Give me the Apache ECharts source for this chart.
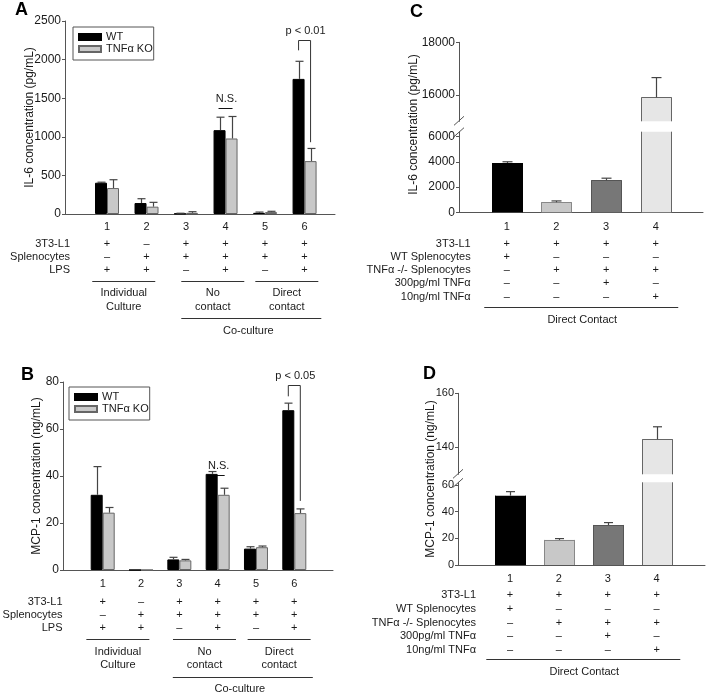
<!DOCTYPE html>
<html><head><meta charset="utf-8">
<script src="https://cdn.jsdelivr.net/npm/echarts@6/dist/echarts.min.js"></script>
<style>html,body{margin:0;padding:0;background:#fff}#c{width:709px;height:696px}</style>
</head><body><div id="c"></div>
<script>
// ---------------- DATA ----------------
// Panel A: IL-6 (pg/mL)
const catsAB = ['1','2','3','4','5','6'];
const aWT    = [405, 142, 5, 1086, 15, 1750];
const aWTerr = [412, 198, 10, 1254, 25, 1978];
const aKO    = [336, 95, 15, 978, 25, 685];
const aKOerr = [444, 151, 30, 1263, 35, 849];
const aYTicks = [0, 500, 1000, 1500, 2000, 2500];
// Panel B: MCP-1 (ng/mL)
const bWT    = [32, 0, 4.5, 40.9, 9.1, 68];
const bWTerr = [44, 0, 5.4, 41.9, 9.9, 71];
const bKO    = [24.4, 0, 4.1, 32, 9.7, 24.2];
const bKOerr = [26.6, 0, 4.5, 34.8, 10.2, 26];
const bYTicks = [0, 20, 40, 60, 80];
const seriesNames = ['WT', 'TNFα KO'];

const abRowLabels = ['3T3-L1', 'Splenocytes', 'LPS'];
const abRows = [
  ['+','–','+','+','+','+'],
  ['–','+','+','+','+','+'],
  ['+','+','–','+','–','+']
];
const abGroups = [
  {label: ['Individual','Culture'], from: 1, to: 2},
  {label: ['No','contact'], from: 3, to: 4},
  {label: ['Direct','contact'], from: 5, to: 6}
];
const abSuper = {label: 'Co-culture', from: 3, to: 6};
const aSig = {cat: 6, top: 2250, leftEnd: 2120, rightEnd: 930, label: 'p < 0.01'};
const aNS  = {cat: 4, y: 1373, label: 'N.S.'};
const bSig = {cat: 6, top: 78.8, leftEnd: 73.9, rightEnd: 29.4, label: 'p < 0.05'};
const bNS  = {cat: 4, y: 40.5, label: 'N.S.'};

// Panel C: IL-6 (pg/mL), broken axis
const catsCD = ['1','2','3','4'];
const cVal = [3900, 800, 2540, 15910];
const cErr = [4000, 900, 2700, 16660];
const cLowTicks = [0, 2000, 4000, 6000];
const cHighTicks = [16000, 18000];
// Panel D: MCP-1 (ng/mL), broken axis
const dVal = [52, 18.8, 30, 143];
const dErr = [55, 19.8, 31.8, 147.6];
const dLowTicks = [0, 20, 40, 60];
const dHighTicks = [140, 160];

const cdRowLabels = ['3T3-L1','WT Splenocytes','TNFα -/- Splenocytes','300pg/ml TNFα','10ng/ml TNFα'];
const cdRows = [
  ['+','+','+','+'],
  ['+','–','–','–'],
  ['–','+','+','+'],
  ['–','–','+','–'],
  ['–','–','–','+']
];
const cdGroup = 'Direct Contact';

// ---------------- STYLE ----------------
const FONT = '"Liberation Sans", Arial, Helvetica, sans-serif';
const AX = '#555';
const TX = '#1a1a1a';
const ERR = '#444';
const cdColors = ['#000000', '#c8c8c8', '#777777', '#e6e6e6'];
const cdBorders = ['#000000', '#888888', '#555555', '#666666'];

const chart = echarts.init(document.getElementById('c'), null, {renderer: 'canvas'});

function mkX(g, min, max, cats, show, margin) {
  return {
    type: 'value', gridIndex: g, min: min, max: max, show: show,
    axisLine: {show: true, onZero: false, lineStyle: {color: AX, width: 1}},
    axisTick: {show: false}, splitLine: {show: false},
    axisLabel: {show: true, customValues: cats.map((c, i) => i + 1),
      formatter: v => cats[Math.round(v) - 1], margin: margin || 8,
      fontSize: 11, fontFamily: FONT, color: TX}
  };
}
function mkY(g, min, max, ticks, fs, name, gap) {
  const o = {
    type: 'value', gridIndex: g, min: min, max: max,
    axisLine: {show: true, onZero: false, lineStyle: {color: AX, width: 1}},
    axisTick: {show: true, length: 3, customValues: ticks, lineStyle: {color: AX}},
    axisLabel: {show: true, customValues: ticks, formatter: v => String(v), margin: 4,
      fontSize: fs, fontFamily: FONT, color: TX},
    splitLine: {show: false}
  };
  if (name) {
    o.name = name; o.nameLocation = 'middle'; o.nameGap = gap; o.nameMoveOverlap = false;
    o.nameTextStyle = {fontSize: 12, fontFamily: FONT, color: TX};
  }
  return o;
}
function errSeries(xi, vals, tops, dx, lo, hi, cap) {
  return {
    type: 'custom', xAxisIndex: xi, yAxisIndex: xi, z: 5, silent: true,
    data: vals.map((v, i) => [i + 1, v, tops[i]]),
    renderItem: function (params, api) {
      const x = api.value(0), m = api.value(1), t = api.value(2);
      if (m < lo || m > hi || t <= m) return null;
      const p0 = api.coord([x, m]), p1 = api.coord([x, t]);
      const cx = Math.round(p0[0] + dx) + 0.5;
      return {type: 'group', children: [
        {type: 'line', shape: {x1: cx, y1: p0[1], x2: cx, y2: p1[1]}, style: {stroke: ERR, lineWidth: 1.2}},
        {type: 'line', shape: {x1: cx - cap / 2, y1: p1[1], x2: cx + cap / 2, y2: p1[1]}, style: {stroke: ERR, lineWidth: 1.2}}
      ]};
    }
  };
}
function barAB(xi, name, vals, color, border) {
  return {type: 'bar', name: name, xAxisIndex: xi, yAxisIndex: xi, barWidth: 12, barGap: '0%',
    data: vals.map((v, i) => [i + 1, v]),
    itemStyle: {color: color, borderColor: border, borderWidth: 1}, z: 2};
}
// bars of the broken-axis panels: fill clipped to the grid, outline only on real edges
function barCD(xi, vals) {
  return {
    type: 'custom', xAxisIndex: xi, yAxisIndex: xi, z: 2, silent: true,
    data: vals.map((v, i) => [i + 1, v]),
    renderItem: function (params, api) {
      const cs = params.coordSys, i = params.dataIndex;
      const x = api.value(0), v = api.value(1);
      const p0 = api.coord([x, 0]), p1 = api.coord([x, v]);
      const w = 30, xl = Math.round(p0[0] - w / 2) + 0.5, xr = xl + w;
      const top = Math.max(p1[1], cs.y), bot = Math.min(p0[1], cs.y + cs.height);
      if (top >= bot) return null;
      const st = {stroke: cdBorders[i], lineWidth: 1};
      const ch = [
        {type: 'rect', shape: {x: xl, y: top, width: w, height: bot - top}, style: {fill: cdColors[i]}},
        {type: 'line', shape: {x1: xl, y1: top, x2: xl, y2: bot}, style: st},
        {type: 'line', shape: {x1: xr, y1: top, x2: xr, y2: bot}, style: st}
      ];
      if (p1[1] >= cs.y) {
        const yt = Math.round(top) + 0.5;
        ch.push({type: 'line', shape: {x1: xl, y1: yt, x2: xr, y2: yt}, style: st});
      }
      return {type: 'group', children: ch};
    }
  };
}

const legendCommon = {
  orient: 'vertical', data: seriesNames, selectedMode: false, icon: 'rect',
  itemWidth: 22, itemHeight: 6, itemGap: 0, borderColor: '#555', borderWidth: 1,
  padding: [4, 1, 5, 5], textStyle: {fontSize: 11, fontFamily: FONT, color: TX, lineHeight: 12}
};

chart.setOption({
  animation: false,
  backgroundColor: '#fff',
  grid: [
    {left: 65, top: 21, width: 270, height: 193},
    {left: 63, top: 382, width: 270, height: 188},
    {left: 459, top: 42.3, width: 244, height: 79},
    {left: 459, top: 131.7, width: 244, height: 80.6},
    {left: 458, top: 393.3, width: 247, height: 81},
    {left: 458, top: 482.3, width: 247, height: 82.7}
  ],
  xAxis: [
    mkX(0, -0.063, 6.77, catsAB, true, 7),
    mkX(1, -0.036, 7.01, catsAB, true, 8),
    mkX(2, 0.04, 4.95, catsCD, false),
    mkX(3, 0.04, 4.95, catsCD, true, 9),
    mkX(4, -0.063, 4.99, catsCD, false),
    mkX(5, -0.063, 4.99, catsCD, true, 8)
  ],
  yAxis: [
    mkY(0, 0, 2500, aYTicks, 12, 'IL-6 concentration (pg/mL)', 29),
    mkY(1, 0, 80, bYTicks, 12, 'MCP-1 concentration (ng/mL)', 20.5),
    mkY(2, 15000, 18000, cHighTicks, 12),
    mkY(3, 0, 6380, cLowTicks, 12),
    mkY(4, 130, 160, dHighTicks, 11),
    mkY(5, 0, 62, dLowTicks, 11)
  ],
  legend: [
    Object.assign({left: 73, top: 27}, legendCommon),
    Object.assign({left: 69, top: 387}, legendCommon)
  ],
  series: [
    barAB(0, seriesNames[0], aWT, '#000', '#000'),
    barAB(0, seriesNames[1], aKO, '#c8c8c8', '#666'),
    errSeries(0, aWT, aWTerr, -6, 0, 2500, 8),
    errSeries(0, aKO, aKOerr, 6, 0, 2500, 8),
    barAB(1, seriesNames[0], bWT, '#000', '#000'),
    barAB(1, seriesNames[1], bKO, '#c8c8c8', '#666'),
    errSeries(1, bWT, bWTerr, -6, 0, 80, 8),
    errSeries(1, bKO, bKOerr, 6, 0, 80, 8),
    barCD(2, cVal), barCD(3, cVal),
    errSeries(2, cVal, cErr, 0, 15000, 18000, 10),
    errSeries(3, cVal, cErr, 0, 0, 6380, 10),
    barCD(4, dVal), barCD(5, dVal),
    errSeries(4, dVal, dErr, 0, 130, 160, 9),
    errSeries(5, dVal, dErr, 0, 0, 62, 9)
  ]
});

// ---------------- ANNOTATIONS / TABLES ----------------
const G = [];
function px(g, x, y) { return chart.convertToPixel({gridIndex: g}, [x, y]); }
function txt(x, y, s, align, size, extra) {
  return Object.assign({type: 'text', x: x, y: y, silent: true,
    style: {text: s, fill: TX, fontSize: size || 11, fontFamily: FONT, align: align || 'center', verticalAlign: 'middle'}}, extra || {});
}
function ln(x1, y1, x2, y2, color, w) {
  return {type: 'line', silent: true, shape: {x1: x1, y1: y1, x2: x2, y2: y2}, style: {stroke: color || '#222', lineWidth: w || 1}};
}
function bold(x, y, s) {
  return {type: 'text', x: x, y: y, silent: true, style: {text: s, fill: '#000', fontSize: 18, fontWeight: 'bold', fontFamily: FONT, align: 'left', verticalAlign: 'top'}};
}
G.push(bold(15, 1, 'A'), bold(21, 366, 'B'), bold(410, 3, 'C'), bold(423, 365, 'D'));

function sig(g, s) {
  const pl = px(g, s.cat, s.top), xl = pl[0] - 6, xr = pl[0] + 6;
  const yt = Math.round(pl[1]) + 0.5;
  const yl = px(g, s.cat, s.leftEnd)[1], yr = px(g, s.cat, s.rightEnd)[1];
  G.push(ln(xl, yt, xr, yt, '#333'), ln(xl, yt, xl, yl, '#333'), ln(xr, yt, xr, yr, '#333'));
  G.push(txt(pl[0] + 1, yt - 10, s.label, 'center', 11));
}
function ns(g, s) {
  const p = px(g, s.cat, s.y), y = Math.round(p[1]) + 0.5;
  G.push(ln(p[0] - 7, y, p[0] + 7, y, '#111'));
  G.push(txt(p[0] + 1, y - 10, s.label, 'center', 11));
}
sig(0, aSig); ns(0, aNS); sig(1, bSig); ns(1, bNS);

function tableAB(g, rowY, labelX, lineY, textY1, textY2, dxs, superY, superTextY) {
  abRowLabels.forEach((lab, r) => {
    G.push(txt(labelX, rowY[r], lab, 'right', 11));
    abRows[r].forEach((s, c) => {
      G.push(txt(px(g, c + 1, 0)[0], rowY[r], s, 'center', 11));
    });
  });
  abGroups.forEach((gr, k) => {
    const x1 = px(g, gr.from, 0)[0], x2 = px(g, gr.to, 0)[0];
    const mid = (x1 + x2) / 2 + dxs[k];
    G.push(ln(mid - 31.5, lineY, mid + 31.5, lineY, '#333'));
    G.push(txt(mid, textY1, gr.label[0], 'center', 11), txt(mid, textY2, gr.label[1], 'center', 11));
  });
  const s1 = px(g, abSuper.from, 0)[0], s2 = px(g, abSuper.to, 0)[0];
  const sm = (s1 + s2) / 2 + 6;
  G.push(ln(sm - 70, superY, sm + 70, superY, '#333'));
  G.push(txt(sm - 3, superTextY, abSuper.label, 'center', 11));
}
tableAB(0, [244, 257, 270], 70, 281.5, 293, 307, [-3, 7, 2], 318.5, 331);
tableAB(1, [601.7, 615, 628.3], 62.5, 639.5, 652, 665, [-4, 6, 4], 677.5, 689);

function tableCD(g, rowY, labelX, lineY, textY) {
  cdRowLabels.forEach((lab, r) => {
    G.push(txt(labelX, rowY[r], lab, 'right', 11));
    cdRows[r].forEach((s, c) => {
      G.push(txt(px(g, c + 1, 0)[0], rowY[r], s, 'center', 11));
    });
  });
  const x1 = px(g, 1, 0)[0], x2 = px(g, 4, 0)[0], mid = (x1 + x2) / 2;
  G.push(ln(mid - 97, lineY, mid + 97, lineY, '#333'));
  G.push(txt(mid + 1, textY, cdGroup, 'center', 11));
}
tableCD(3, [244, 257, 270, 283.3, 296.7], 470.7, 307.5, 320);
tableCD(5, [595, 609, 622.5, 636, 650], 476, 659.5, 672);

// broken-axis marks and titles for C and D
function breakMarks(gUp, gLow, yMinUp, yMaxLow) {
  const a = px(gUp, 1, yMinUp), b = px(gLow, 1, yMaxLow);
  const ax = chart.getModel().getComponent('grid', gUp).coordinateSystem.getRect().x;
  G.push(ln(ax - 5, a[1] + 4, ax + 5, a[1] - 5, AX));
  G.push(ln(ax - 5, b[1] + 5, ax + 5, b[1] - 4, AX));
}
breakMarks(2, 3, 15000, 6380);
breakMarks(4, 5, 130, 62);
G.push(txt(413.5, 124.5, 'IL-6 concentration (pg/mL)', 'center', 12, {rotation: Math.PI / 2}));
G.push(txt(430.5, 479, 'MCP-1 concentration (ng/mL)', 'center', 12, {rotation: Math.PI / 2}));

chart.setOption({graphic: G});
</script></body></html>
